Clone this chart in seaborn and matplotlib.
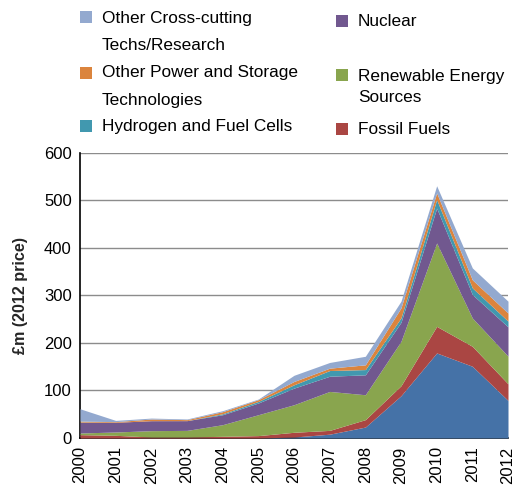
import numpy as np
import pandas as pd
import matplotlib
matplotlib.use("Agg")
import matplotlib.pyplot as plt
from matplotlib.patches import Rectangle
import seaborn as sns

# years on the x axis
years = list(range(2000, 2013))

# spend per category, £m (2012 price), bottom layer first
efficiency = [0, 0, 0, 0, 0, 0, 2, 8, 23, 89, 179, 151, 79]
fossil = [7, 5.6, 2, 2, 3.5, 5, 10, 8, 15.6, 21, 56, 42, 35]
renewable = [3.5, 7, 13.4, 14, 24.5, 44, 58, 82, 52.4, 93.5, 175.5, 59.6, 58.3]
nuclear = [22.5, 20.4, 21, 20.5, 21, 24.7, 35, 32, 42, 40, 73.5, 49.4, 61.7]
hydrogen = [0.5, 0, 0, 0, 2, 3.3, 7, 12, 11, 9.5, 18, 14, 12]
other_power = [2, 1.4, 3.5, 2.1, 4.4, 3.7, 7, 5, 10, 21, 14, 17, 17]
other_cross = [26, 2.6, 2, 1.4, 2.1, 1.3, 13, 12, 18, 14, 15, 25, 25]

series_names = ["Energy Efficiency", "Fossil Fuels", "Renewable Energy Sources",
                "Nuclear", "Hydrogen and Fuel Cells",
                "Other Power and Storage Technologies",
                "Other Cross-cutting Techs/Research"]
colors = ["#4572A7", "#AA4643", "#89A54E", "#71588F", "#4198AF", "#DB843D", "#93A9CF"]

df = pd.DataFrame({"year": years,
                   series_names[0]: efficiency,
                   series_names[1]: fossil,
                   series_names[2]: renewable,
                   series_names[3]: nuclear,
                   series_names[4]: hydrogen,
                   series_names[5]: other_power,
                   series_names[6]: other_cross})

sns.set_theme(style="white")
plt.rcParams['font.family'] = ['Liberation Sans', 'DejaVu Sans']

W, H = 516, 488
fig = plt.figure(figsize=(W / 100, H / 100), dpi=100)
ax = fig.add_axes([0.155, 0.1025, 0.8295, 0.584])

ax.stackplot(df["year"], [df[n] for n in series_names], colors=colors,
             linewidth=0, zorder=3)

ax.set_xlim(2000, 2012)
ax.set_ylim(0, 600)
ax.set_yticks(np.arange(0, 601, 100))
ax.set_xticks(years)
ax.set_xticklabels([str(y) for y in years], rotation=90)
ax.tick_params(axis="both", labelsize=12, length=0, colors="black")
ax.tick_params(axis="y", pad=6)
ax.tick_params(axis="x", pad=6)
ax.yaxis.grid(True, color="#8c8c8c", linewidth=1, zorder=0)
ax.set_axisbelow(True)

ax.set_ylabel("£m (2012 price)", fontsize=11.6, fontweight="bold", labelpad=11)

sns.despine(ax=ax)
ax.spines["left"].set_color("black")
ax.spines["bottom"].set_color("black")
ax.spines["left"].set_linewidth(1.2)
ax.spines["bottom"].set_linewidth(1.2)

# legend drawn by hand so the squares sit at the first line
# (Energy Efficiency is not listed in the original)
leg_entries = [
    # label lines, colour, square x, square top, text x, line centres (px)
    (["Other Cross-cutting", "Techs/Research"], colors[6], 80, 11, 102, [18, 46]),
    (["Other Power and Storage", "Technologies"], colors[5], 80, 67, 102, [73, 100]),
    (["Hydrogen and Fuel Cells"], colors[4], 80, 120, 102, [127]),
    (["Nuclear"], colors[3], 336, 15, 358, [21]),
    (["Renewable Energy", "Sources"], colors[2], 336, 69, 358, [76, 97]),
    (["Fossil Fuels"], colors[1], 336, 123, 358, [130]),
]
sq = 12
for lines, c, sx, sy, tx, ys in leg_entries:
    fig.add_artist(Rectangle((sx / W, 1 - (sy + sq) / H), sq / W, sq / H,
                             transform=fig.transFigure, facecolor=c,
                             edgecolor="none"))
    for line, y in zip(lines, ys):
        fig.text(tx / W, 1 - y / H, line, fontsize=12.4, color="black",
                 ha="left", va="center")

fig.savefig("out.png", dpi=100)
